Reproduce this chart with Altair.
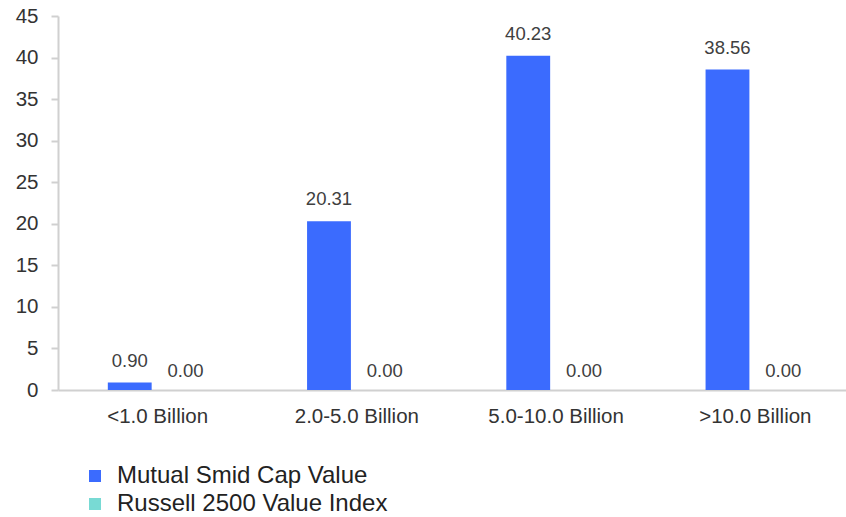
import altair as alt
import pandas as pd

categories = ["<1.0 Billion", "2.0-5.0 Billion", "5.0-10.0 Billion", ">10.0 Billion"]
series = ["Mutual Smid Cap Value", "Russell 2500 Value Index"]
fund_values = [0.90, 20.31, 40.23, 38.56]
index_values = [0.00, 0.00, 0.00, 0.00]
colors = ["#3B6BFE", "#78DAD4"]
y_ticks = [0, 5, 10, 15, 20, 25, 30, 35, 40, 45]

rows = []
for c, v in zip(categories, fund_values):
    rows.append({"category": c, "series": series[0], "value": v})
for c, v in zip(categories, index_values):
    rows.append({"category": c, "series": series[1], "value": v})
df = pd.DataFrame(rows)

FONT = "Liberation Sans"

base = alt.Chart(df).encode(
    x=alt.X(
        "category:N",
        sort=categories,
        scale=alt.Scale(range=[0, 797], paddingInner=0, paddingOuter=0),
        axis=alt.Axis(
            title=None,
            labelAngle=0,
            ticks=False,
            tickSize=0,
            labelPadding=16,
            labelFontSize=20.5,
            labelColor="#333333",
            labelFont=FONT,
            domainColor="#D0D0D0",
            domainWidth=2,
            grid=False,
        ),
    ),
    xOffset=alt.XOffset(
        "series:N",
        sort=series,
        scale=alt.Scale(paddingInner=0.214, paddingOuter=0.893),
    ),
    y=alt.Y(
        "value:Q",
        scale=alt.Scale(domain=[0, 45], nice=False),
        axis=alt.Axis(
            title=None,
            values=y_ticks,
            tickSize=7,
            tickColor="#D0D0D0",
            tickWidth=2,
            domainColor="#D0D0D0",
            domainWidth=2,
            labelPadding=13,
            labelFontSize=20.5,
            labelColor="#333333",
            labelFont=FONT,
            grid=False,
        ),
    ),
)

bars = base.mark_bar().encode(
    color=alt.Color(
        "series:N",
        sort=series,
        scale=alt.Scale(domain=series, range=colors),
        legend=alt.Legend(
            title=None,
            orient="none",
            legendX=25,
            legendY=448,
            direction="vertical",
            symbolType="square",
            symbolSize=144,
            symbolStrokeWidth=0,
            labelFontSize=24,
            labelFont=FONT,
            labelColor="#222222",
            labelOffset=10,
            labelLimit=600,
            rowPadding=4,
            padding=0,
        ),
    )
)

labels_fund = base.transform_filter(alt.datum.series == series[0]).mark_text(
    baseline="alphabetic", dy=-16, fontSize=18.5, font=FONT, color="#404040"
).encode(text=alt.Text("value:Q", format=".2f"))

labels_index = base.transform_filter(alt.datum.series == series[1]).mark_text(
    baseline="alphabetic", dy=-13, fontSize=18.5, font=FONT, color="#404040"
).encode(text=alt.Text("value:Q", format=".2f"))

chart = (
    alt.layer(bars, labels_fund, labels_index)
    .properties(
        width=788,
        height=374,
        autosize=alt.AutoSizeParams(type="none"),
        padding={"left": 58, "top": 16, "right": 0, "bottom": 127},
        background="white",
    )
    .configure_view(stroke=None)
)

chart.save("out.html", embed_options={"renderer": "svg", "actions": False})
